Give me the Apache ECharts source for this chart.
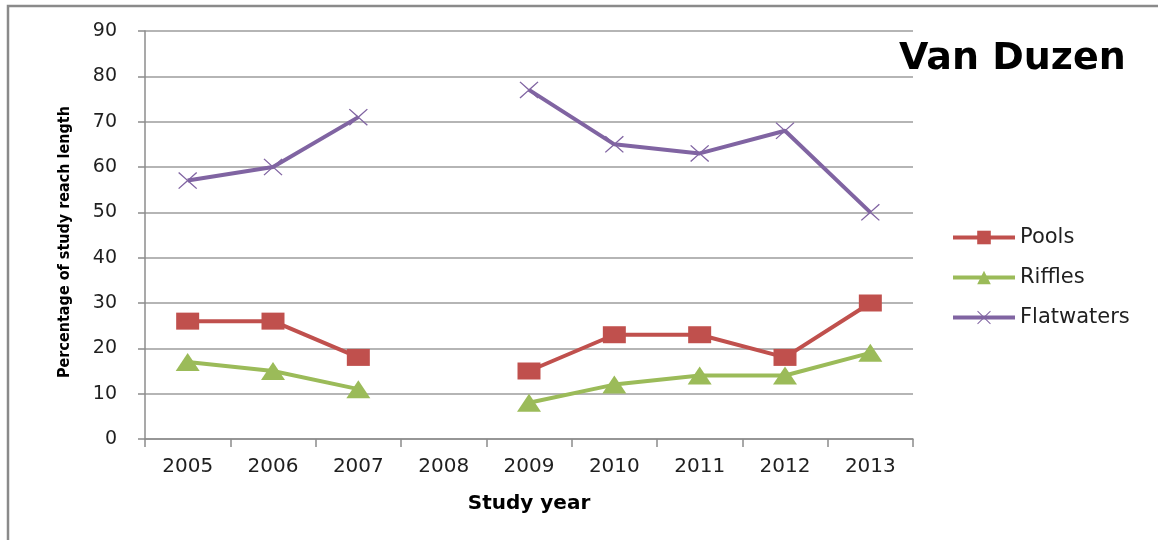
<!DOCTYPE html>
<html>
<head>
<meta charset="utf-8">
<title>Van Duzen</title>
<script src="https://cdn.jsdelivr.net/npm/echarts@6/dist/echarts.min.js"></script>
<style>
  html, body { margin: 0; padding: 0; background: #ffffff; }
  #chart { width: 1158px; height: 540px; }
</style>
</head>
<body>
<div id="chart"></div>
<script>
// Habitat composition of the Van Duzen study reach, by year (percent of reach length)
const years = ['2005', '2006', '2007', '2008', '2009', '2010', '2011', '2012', '2013'];
const pools = [26, 26, 18, null, 15, 23, 23, 18, 30];
const riffles = [17, 15, 11, null, 8, 12, 14, 14, 19];
const flatwaters = [57, 60, 71, null, 77, 65, 63, 68, 50];
const yTicks = [0, 10, 20, 30, 40, 50, 60, 70, 80, 90];

// thin diagonal cross used as the Flatwaters marker
const crossPath = 'path://M0,1L1,0L10,9L19,0L20,1L11,10L20,19L19,20L10,11L1,20L0,19L9,10Z';

const chart = echarts.init(document.getElementById('chart'), null, { renderer: 'canvas' });

const textColor = '#1f1f1f';
const baseFont = "'DejaVu Sans', Verdana, sans-serif";

function lineSeries(name, data, color, symbol, size) {
  return {
    name: name,
    type: 'line',
    data: data,
    connectNulls: false,
    symbol: symbol,
    symbolSize: size,
    showAllSymbol: true,
    lineStyle: { color: color, width: 4 },
    itemStyle: { color: color, borderWidth: 0 },
    emphasis: { disabled: true },
    z: 3
  };
}

chart.setOption({
  animation: false,
  backgroundColor: '#ffffff',
  graphic: [
    {
      type: 'rect',
      shape: { x: 8, y: 6, width: 1200, height: 600 },
      style: { fill: 'none', stroke: '#8a8a8a', lineWidth: 2.5 },
      silent: true
    }
  ],
  title: {
    text: 'Van Duzen',
    left: 894,
    top: 35,
    textStyle: { fontFamily: baseFont, fontWeight: 'bold', fontSize: 38, color: '#000000' }
  },
  legend: {
    orient: 'vertical',
    left: 946,
    top: 222,
    itemWidth: 62,
    itemHeight: 17,
    itemGap: 19,
    data: ['Pools', 'Riffles', 'Flatwaters'],
    lineStyle: { width: 4 },
    textStyle: { fontFamily: baseFont, fontSize: 21, color: textColor },
    selectedMode: false
  },
  grid: { left: 145, right: 245, top: 31, bottom: 101, containLabel: false },
  xAxis: {
    type: 'category',
    data: years,
    boundaryGap: true,
    name: 'Study year',
    nameLocation: 'middle',
    nameGap: 55,
    nameTextStyle: { fontFamily: baseFont, fontWeight: 'bold', fontSize: 20, color: '#000000' },
    axisLine: { show: true, lineStyle: { color: '#8c8c8c', width: 1.5 } },
    axisTick: { show: true, alignWithLabel: false, length: 8, lineStyle: { color: '#8c8c8c', width: 1.5 } },
    axisLabel: { margin: 18, fontFamily: baseFont, fontSize: 20, color: textColor, interval: 0 },
    splitLine: { show: false }
  },
  yAxis: {
    type: 'value',
    min: yTicks[0],
    max: yTicks[yTicks.length - 1],
    interval: 10,
    name: 'Percentage of study reach length',
    nameLocation: 'middle',
    nameRotate: 90,
    nameGap: 72,
    nameTextStyle: {
      fontFamily: "'DejaVu Sans Condensed', 'DejaVu Sans', sans-serif",
      fontWeight: 'bold',
      fontSize: 16,
      color: '#000000',
      padding: [0, 14, 0, 0]
    },
    axisLine: { show: true, lineStyle: { color: '#8c8c8c', width: 1.5 } },
    axisTick: { show: true, length: 7, lineStyle: { color: '#8c8c8c', width: 1.5 } },
    axisLabel: { margin: 28, fontFamily: baseFont, fontSize: 19, color: textColor },
    splitLine: { show: true, lineStyle: { color: '#9c9c9c', width: 1.5 } }
  },
  series: [
    lineSeries('Pools', pools, '#C0504D', 'rect', [23, 17]),
    lineSeries('Riffles', riffles, '#9BBB59', 'triangle', [24, 18]),
    lineSeries('Flatwaters', flatwaters, '#8064A2', crossPath, [19, 17])
  ]
});
</script>
</body>
</html>
